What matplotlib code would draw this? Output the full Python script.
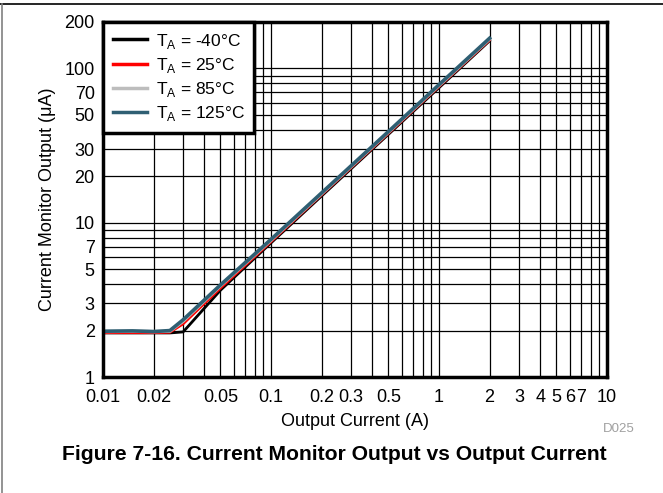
import matplotlib.pyplot as plt
from matplotlib.lines import Line2D
from matplotlib.ticker import FixedLocator, NullFormatter, NullLocator

plt.rcParams['font.family'] = ['Liberation Sans', 'DejaVu Sans']

# Output current (A)
current = [0.01, 0.015, 0.02, 0.025, 0.03, 0.05, 0.1, 0.2, 0.5, 1, 2]

# Current monitor output (uA) per ambient temperature
out_m40 = [1.93, 1.93, 1.93, 1.93, 1.96, 3.65, 7.4, 14.9, 37.4, 75, 151]
out_25 = [1.93, 1.93, 1.93, 1.94, 2.2, 3.75, 7.5, 15.1, 37.8, 76, 152]
out_85 = [1.97, 1.98, 1.97, 1.98, 2.3, 3.9, 7.7, 15.4, 38.6, 77.5, 155]
out_125 = [1.98, 1.99, 1.97, 2.0, 2.35, 3.95, 7.8, 15.6, 39.0, 78.5, 157]

labels = ['T$_\\mathregular{A}$ = -40°C', 'T$_\\mathregular{A}$ = 25°C',
          'T$_\\mathregular{A}$ = 85°C', 'T$_\\mathregular{A}$ = 125°C']
colors = ['#000000', '#ff0000', '#bdbdbd', '#2f5f73']

x_ticks = [0.01, 0.02, 0.05, 0.1, 0.2, 0.3, 0.5, 1, 2, 3, 4, 5, 6, 7, 10]
x_grid = [0.01, 0.02, 0.03, 0.04, 0.05, 0.06, 0.07, 0.08, 0.09,
          0.1, 0.2, 0.3, 0.4, 0.5, 0.6, 0.7, 0.8, 0.9,
          1, 2, 3, 4, 5, 6, 7, 8, 9, 10]
y_ticks = [1, 2, 3, 5, 7, 10, 20, 30, 50, 70, 100, 200]
y_grid = [1, 2, 3, 4, 5, 6, 7, 8, 9, 10, 20, 30, 40, 50, 60, 70, 80, 90, 100, 200]

fig = plt.figure(figsize=(6.63, 4.93), dpi=100)
ax = fig.add_axes([103 / 663, 1 - 377 / 493, 504 / 663, 355 / 493])

ax.set_xscale('log')
ax.set_yscale('log')
ax.set_xlim(0.01, 10)
ax.set_ylim(1, 200)

# grid drawn by hand so every decade line is solid black
for gx in x_grid:
    ax.axvline(gx, color='black', lw=0.9, zorder=1)
for gy in y_grid:
    ax.axhline(gy, color='black', lw=0.9, zorder=1)

ax.plot(current, out_m40, color=colors[0], lw=2.0, zorder=3)
ax.plot(current, out_25, color=colors[1], lw=1.6, zorder=4)
ax.plot(current, out_85, color=colors[2], lw=2.4, zorder=5)
ax.plot(current, out_125, color=colors[3], lw=2.6, zorder=6)

ax.xaxis.set_major_locator(FixedLocator(x_ticks))
ax.xaxis.set_minor_locator(NullLocator())
ax.xaxis.set_major_formatter(plt.FuncFormatter(lambda v, p: '%g' % v))
ax.xaxis.set_minor_formatter(NullFormatter())
ax.yaxis.set_major_locator(FixedLocator(y_ticks))
ax.yaxis.set_minor_locator(NullLocator())
ax.yaxis.set_major_formatter(plt.FuncFormatter(lambda v, p: '%g' % v))
ax.yaxis.set_minor_formatter(NullFormatter())
ax.tick_params(axis='x', length=0, labelsize=13, pad=9)
ax.tick_params(axis='y', length=0, labelsize=13, pad=6)

for side in ax.spines.values():
    side.set_linewidth(2.5)
    side.set_zorder(10)

ax.set_xlabel('Output Current (A)', fontsize=13, labelpad=5)
ax.set_ylabel('Current Monitor Output (μA)', fontsize=13, labelpad=6)

handles = [Line2D([], [], color=c, lw=2.5) for c in colors]
leg = ax.legend(handles, labels, loc='upper left', fontsize=12.5,
                frameon=True, fancybox=False, framealpha=1,
                borderaxespad=0, handlelength=2.0, handletextpad=0.5,
                labelspacing=0.3, borderpad=0.55)
leg.get_frame().set_edgecolor('black')
leg.get_frame().set_linewidth(2.5)
leg.set_zorder(20)

fig.text(619 / 663, 1 - 429 / 493, 'D025', fontsize=9.5, color='#a0a0a0',
         ha='center', va='center')
fig.text(334 / 663, 1 - 455 / 493,
         'Figure 7-16. Current Monitor Output vs Output Current',
         fontsize=15.2, fontweight='bold', ha='center', va='center')

# page frame: top rule and left edge
fig.add_artist(Line2D([0, 1], [1 - 4 / 493, 1 - 4 / 493], color='black', lw=1.2,
                      transform=fig.transFigure))
fig.add_artist(Line2D([1.5 / 663, 1.5 / 663], [0, 1 - 4 / 493], color='#808080',
                      lw=1.2, transform=fig.transFigure))

fig.savefig('out.png', dpi=100)
